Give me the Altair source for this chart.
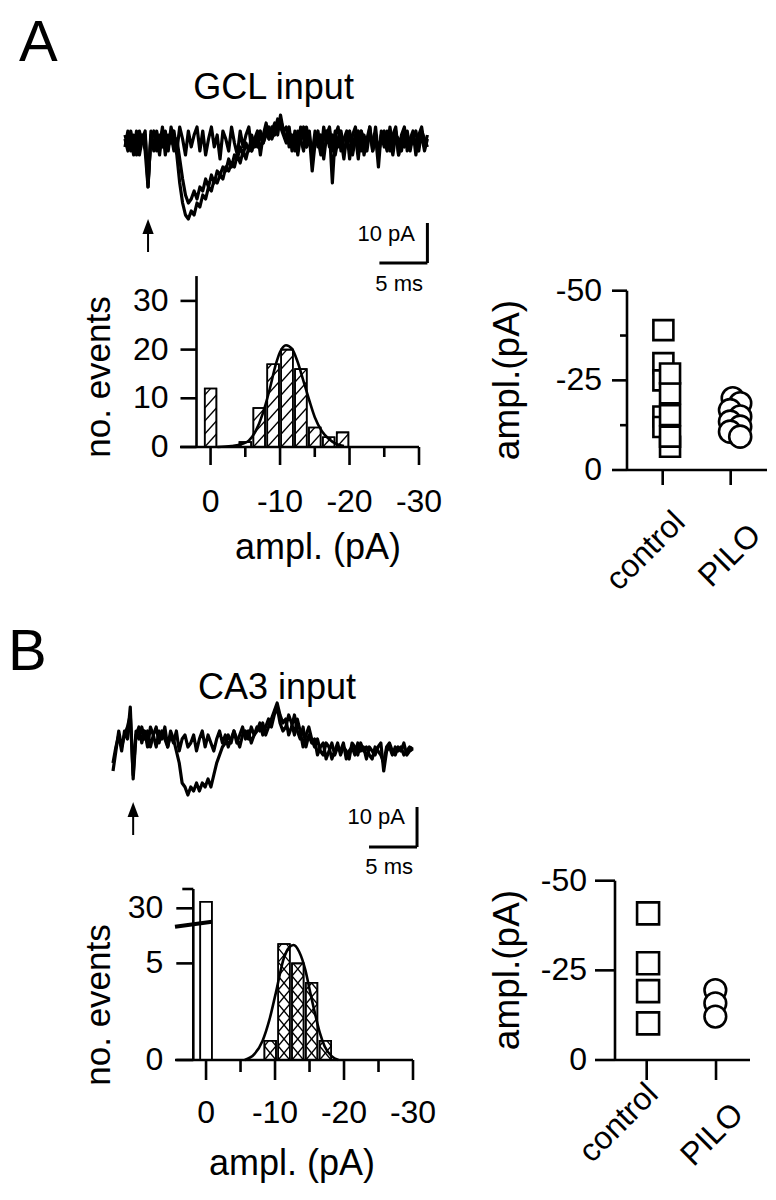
import altair as alt
import pandas as pd

FONT = "Liberation Sans"
M = 8            # page margin: image pixel minus M gives chart pixel
W, H = 760, 1184


def P(v):
    return v - M


# ------------------------------------------------------------------ data
DT = 0.3  # ms between trace samples
TRACE_A_FAIL = [1, -2, 3, -1, 2, -3, 1, 3, -11, 2,
                -2, 3, -1, 4, -3, 2, 0, 3, -2, 4,
                1, -3, 3, -1, 2, 4, -2, 3, -3, 1,
                4, -1, 2, -4, 3, 1, -2, 4, 0, -3,
                3, -1, 2, 4, -2, 1, 3, -3, 2, 5,
                1, 3, 5, 2, 7, 3, 1, 4, -2, 3,
                -3, 2, 4, -1, 3, -4, 2, 1, -3, 4,
                0, 3, -10, 2, 4, -2, 1, 3, -4, 2,
                4, -1, 3, -3, 1, 4, -2, 2, -6, 3,
                1, -2, 4, -1, 3, -3, 2, 4, -2, 1,
                3, -3, 2, 4, -1, 2]
TRACE_A_EPSC1 = [-1, 3, -2, 2, -3, 3, 0, 2, -10, 1,
                 3, -2, 2, -1, 3, -2, 4, 1, -3, -10,
                 -15, -18, -19, -17, -18, -15, -16, -13, -14, -11,
                 -12, -9, -10, -8, -9, -6, -7, -5, -6, -3,
                 -5, -2, -4, -1, -2, 1, -1, 2, 0, 3,
                 1, 4, 2, 5, 6, 3, 4, -1, 2, -2,
                 3, 1, -2, 4, 0, -3, 3, -1, 2, -4,
                 2, 4, -2, 3, -1, 1, -4, 2, 3, -1,
                 2, -4, 3, 1, -2, 3, -1, 4, -3, 2,
                 -1, 3, -2, 2, 4, -3, 1, -1, 3, -2,
                 2, 0, -2, 3, 1, -1]
TRACE_A_EPSC2 = [2, -1, 1, -3, 3, -1, 2, -2, -11, 3,
                 -1, 2, -3, 3, 1, -1, 2, -2, 1, -4,
                 -9, -13, -15, -14, -12, -14, -11, -12, -9, -11,
                 -8, -10, -7, -8, -6, -7, -4, -6, -3, -4,
                 -1, -3, 0, -2, 2, -1, 1, 3, 0, 2,
                 4, 1, 3, 6, 4, 2, 0, 3, -1, 2,
                 -2, 4, 1, -1, 2, -7, 0, 3, -2, 1,
                 3, -1, 2, -3, 1, 3, -2, 0, 2, -3,
                 1, 3, -2, 2, -1, 4, -2, 1, -3, 2,
                 3, -1, 1, -3, 2, 1, -2, 3, 0, -1,
                 1, 3, -1, 2, -2, 1]
TRACE_B_FAIL = [-5, -1, 2, -2, 3, 1, 9, -9, 2, 4,
                0, 3, -1, 4, 2, -1, 3, 1, 4, -1,
                2, 0, 3, -2, 1, 2, -1, 0, 2, -2,
                1, 3, -1, 2, 0, -2, 1, 3, 0, 2,
                -1, 1, 3, 0, 2, 4, 1, 3, 0, 2,
                4, 3, 5, 2, 4, 6, 8, 10, 7, 5,
                6, 2, 4, 7, 3, 1, 4, -1, 2, 0,
                1, -3, -1, 0, -4, -2, 0, -3, -1, -2,
                0, -4, -2, -1, -3, 0, -2, -1, -4, -1,
                -2, -3, -1, 0, -7, -2, -1, -3, -1, -2,
                -1, -3, -2, -1, -2]
TRACE_B_EPSC = [-7, -2, 3, -1, 2, 4, 7, -8, 3, 1,
                4, 1, 3, -1, 2, 4, 0, 3, 1, -1,
                3, 1, -2, -5, -10, -11, -13, -11, -12, -10,
                -12, -10, -11, -9, -11, -8, -5, -3, -1, 0,
                2, 0, 3, 1, -1, 2, 3, 1, 4, 2,
                3, 5, 2, 4, 6, 4, 7, 9, 5, 3,
                4, 7, 5, 2, 6, 3, -1, 2, 4, 1,
                -1, 1, -2, -3, 0, -1, -4, -2, 0, -3,
                -1, -2, -4, 0, -1, -3, 0, -2, -1, -3,
                -4, -1, -2, -3, -5, -1, 0, -2, -3, -1,
                -2, 0, -3, -2, -1]
STIM_IDX_A = 8
STIM_IDX_B = 7
SCALE_PA = 10
SCALE_MS = 5

HIST_A_CENTERS = [0, 5, 7, 9, 11, 13, 15, 17, 19]
HIST_A_COUNTS = [12, 1, 8, 17, 20, 16, 4, 2, 3]
FIT_A_X = [1.0, 3.0, 4.5, 5.5, 6.5, 7.5, 8.5, 9.4, 10.0, 10.85, 11.7, 12.5, 13.3, 14.2, 15.0, 16.0, 17.0, 18.0, 19.2]
FIT_A_Y = [0.0, 0.2, 0.6, 1.3, 3.3, 6.8, 11.8, 17.0, 19.5, 20.9, 20.2, 17.6, 13.9, 9.6, 6.1, 3.3, 1.7, 0.7, 0.2]

HIST_B_CENTERS = [0, 9.3, 11.3, 13.3, 15.3, 17.3]
HIST_B_COUNTS = [31, 1, 6, 5, 4, 1]
HIST_B_HATCHED = [False, True, True, True, True, True]
FIT_B_X = [5.6, 7.0, 8.2, 9.2, 10.1, 11.3, 12.0, 12.7, 13.5, 14.4, 15.1, 15.8, 16.5, 17.2, 18.2, 19.2]
FIT_B_Y = [0.0, 0.3, 1.0, 2.1, 3.45, 5.3, 5.8, 5.95, 5.6, 4.65, 3.5, 2.4, 1.4, 0.7, 0.2, 0.0]

HIST_MAJOR = [0, 10, 20, 30]
HIST_MAJOR_LABELS = ["0", "-10", "-20", "-30"]
HIST_MINOR = [5, 15, 25]
HIST_A_YTICKS = [0, 10, 20, 30]
HIST_A_YLABELS = ["0", "10", "20", "30"]
HIST_B_YTICKS = [0, 5, 30]
HIST_B_YLABELS = ["0", "5", "30"]

GROUPS = ["control", "PILO"]
A_CTRL_X = [1.01, 1.01, 1.01, 1.01, 1.01, 1.108, 1.108, 1.108, 1.108, 1.108]
A_CTRL_Y = [39.0, 29.8, 25.0, 14.9, 12.0, 6.5, 9.3, 15.3, 21.4, 26.9]
A_PILO_X = [2.03, 2.14, 1.99, 2.14, 1.99, 2.14, 1.99, 2.14]
A_PILO_Y = [20.0, 18.6, 16.7, 14.9, 13.5, 12.1, 10.7, 9.3]
B_CTRL_X = [1.02, 1.02, 1.02, 1.02]
B_CTRL_Y = [40.9, 27.0, 19.2, 10.2]
B_PILO_X = [1.99, 1.99, 1.99]
B_PILO_Y = [19.5, 15.8, 12.1]
SCAT_TICKS = [0, 25, 50]
SCAT_LABELS = ["0", "-25", "-50"]
SCAT_MINOR_A = [12.5, 37.5]

# ------------------------------------------------------------------ helpers
PX_MS = 9.6
PX_PA = 4.0
LW = 2.6
LABEL_SIZE = 32


def S(domain, rng):
    return alt.Scale(domain=domain, range=rng, nice=False, zero=False)


def text(s, x, y, size, angle=0, align="center"):
    return alt.Chart(pd.DataFrame({"s": [s]})).mark_text(
        font=FONT, fontSize=size, angle=angle, align=align,
        baseline="alphabetic", color="black"
    ).encode(x=alt.value(P(x)), y=alt.value(P(y)), text="s:N")


def hline(xs, a, b, y_px, width=LW):
    return alt.Chart(pd.DataFrame({"a": [a], "b": [b]})).mark_rule(
        color="black", strokeWidth=width).encode(
        x=alt.X("a:Q", scale=xs, axis=None), x2="b:Q", y=alt.value(P(y_px)))


def vline(ys, a, b, x_px, width=LW):
    return alt.Chart(pd.DataFrame({"a": [a], "b": [b]})).mark_rule(
        color="black", strokeWidth=width).encode(
        y=alt.Y("a:Q", scale=ys, axis=None), y2="b:Q", x=alt.value(P(x_px)))


def xticks(xs, vals, y_px, length):
    return alt.Chart(pd.DataFrame({"v": vals})).mark_rule(color="black", strokeWidth=LW).encode(
        x=alt.X("v:Q", scale=xs, axis=None), y=alt.value(P(y_px)), y2=alt.value(P(y_px + length)))


def yticks(ys, vals, x_px, length):
    return alt.Chart(pd.DataFrame({"v": vals})).mark_rule(color="black", strokeWidth=LW).encode(
        y=alt.Y("v:Q", scale=ys, axis=None), x=alt.value(P(x_px - length)), x2=alt.value(P(x_px)))


def xlabels(xs, vals, labels, base_px):
    return alt.Chart(pd.DataFrame({"v": vals, "s": labels})).mark_text(
        font=FONT, fontSize=LABEL_SIZE, align="center", baseline="alphabetic", color="black").encode(
        x=alt.X("v:Q", scale=xs, axis=None), y=alt.value(P(base_px)), text="s:N")


def ylabels(ys, vals, labels, right_px):
    return alt.Chart(pd.DataFrame({"v": vals, "s": labels})).mark_text(
        font=FONT, fontSize=LABEL_SIZE, align="right", baseline="middle", color="black").encode(
        y=alt.Y("v:Q", scale=ys, axis=None), x=alt.value(P(right_px)), text="s:N")


ARROW_PATH = "M0,-1L0.75,1L-0.75,1Z"


def trace_panel(sweeps, left, base_y, stim_idx, tip, base, bar_t, bar_pa):
    n = len(sweeps[0])
    dur = (n - 1) * DT
    xs = S([0, dur], [P(left), P(left + dur * PX_MS)])
    ys = S([-40, 20], [P(base_y + 40 * PX_PA), P(base_y - 20 * PX_PA)])
    rows = []
    for k, vals in enumerate(sweeps):
        for i, v in enumerate(vals):
            rows.append({"t": i * DT, "v": v, "sweep": k})
    df = pd.DataFrame(rows)
    X = alt.X("t:Q", scale=xs, axis=None)
    Y = alt.Y("v:Q", scale=ys, axis=None)
    lines = alt.Chart(df).mark_line(color="black", strokeWidth=3.2, strokeJoin="round").encode(
        x=X, y=Y, detail="sweep:N")
    bar_df = pd.DataFrame({"t": [bar_t, bar_t - SCALE_MS], "v": [bar_pa, bar_pa],
                           "t2": [bar_t, bar_t], "v2": [bar_pa + SCALE_PA, bar_pa]})
    bars = alt.Chart(bar_df).mark_rule(color="black", strokeWidth=3).encode(
        x=X, x2="t2:Q", y=Y, y2="v2:Q")
    st = stim_idx * DT
    head_c = tip - 7.5 / PX_PA
    shaft = alt.Chart(pd.DataFrame({"t": [st], "v": [base], "v2": [head_c]})).mark_rule(
        color="black", strokeWidth=2).encode(x=X, y=Y, y2="v2:Q")
    head = alt.Chart(pd.DataFrame({"t": [st], "v": [head_c]})).mark_point(
        shape=ARROW_PATH, filled=True, color="black", size=225, opacity=1, strokeWidth=0).encode(x=X, y=Y)
    return alt.layer(lines, bars, shaft, head)


HALF = 0.84


def hatch_lines(centers, heights, flags, step, kinds):
    rows = []
    for c, h, f in zip(centers, heights, flags):
        if not f:
            continue
        x0, x1 = c - HALF, c + HALF
        k = 0
        while k * step < h - 1e-9:
            ya, yb = k * step, (k + 1) * step
            for kind in kinds:
                if kind == "/":
                    xa, y1, xb, y2 = x0, ya, x1, yb
                    if yb > h:
                        xb = x0 + (h - ya) / (yb - ya) * (x1 - x0)
                        y2 = h
                else:
                    xa, y1, xb, y2 = x0, yb, x1, ya
                    if yb > h:
                        xa = x0 + (yb - h) / (yb - ya) * (x1 - x0)
                        y1 = h
                rows.append({"x": xa, "y": y1, "x2": xb, "y2": y2})
            k += 1
    return pd.DataFrame(rows)


def hist_marks(xs, ys, centers, heights, flags, step, kinds, fit_x, fit_y):
    bars = pd.DataFrame({"x": [c - HALF for c in centers], "x2": [c + HALF for c in centers],
                         "y": [0] * len(heights), "y2": heights})
    enc = dict(x=alt.X("x:Q", scale=xs, axis=None), x2="x2:Q",
               y=alt.Y("y:Q", scale=ys, axis=None), y2="y2:Q")
    rect = alt.Chart(bars).mark_rect(fill="white", stroke="black", strokeWidth=1.6).encode(**enc)
    hat = alt.Chart(hatch_lines(centers, heights, flags, step, kinds)).mark_rule(
        color="black", strokeWidth=1.3).encode(**enc)
    outline = alt.Chart(bars).mark_rect(fill="transparent", stroke="black", strokeWidth=1.6).encode(**enc)
    fit = alt.Chart(pd.DataFrame({"x": fit_x, "y": fit_y})).mark_line(
        color="black", strokeWidth=2.6, interpolate="monotone").encode(
        x=alt.X("x:Q", scale=xs, axis=None), y=alt.Y("y:Q", scale=ys, axis=None))
    return [rect, hat, outline, fit]


# ------------------------------------------------------------------ histogram A
def hist_a():
    xd, yd = [-4.4, 30], [0, 35.1]
    xs = S(xd, [P(180), P(419)])
    ys = S(yd, [P(447), P(447 - 35.1 * 4.87)])
    layers = hist_marks(xs, ys, HIST_A_CENTERS, HIST_A_COUNTS, [True] * len(HIST_A_COUNTS),
                        13 / 4.87, "/", FIT_A_X, FIT_A_Y)
    layers += [
        hline(xs, xd[0], xd[1], 447),
        xticks(xs, HIST_MAJOR, 447, 18),
        xticks(xs, HIST_MINOR, 447, 10),
        xlabels(xs, HIST_MAJOR, HIST_MAJOR_LABELS, 512),
        vline(ys, yd[0], yd[1], 196.5),
        yticks(ys, HIST_A_YTICKS, 196.5, 16),
        ylabels(ys, HIST_A_YTICKS, HIST_A_YLABELS, 168.5),
    ]
    return alt.layer(*layers)


# ------------------------------------------------------------------ histogram B (broken axis)
LOW_MAX = 7
UP_BASE = 30
UP_POS = 7.85
UP_SCALE = 0.34
AXIS_TOP_B = 8.85


def disp(v):
    return v if v <= LOW_MAX else UP_POS + (v - UP_BASE) * UP_SCALE


def hist_b():
    xd, yd = [-4.5, 30], [0, AXIS_TOP_B]
    xs = S(xd, [P(175), P(413)])
    ys = S(yd, [P(1060), P(889)])
    heights = [disp(v) for v in HIST_B_COUNTS]
    layers = hist_marks(xs, ys, HIST_B_CENTERS, heights, HIST_B_HATCHED,
                        14 / 19.33, "/\\", FIT_B_X, FIT_B_Y)
    yt = [disp(v) for v in HIST_B_YTICKS]
    brk = alt.Chart(pd.DataFrame({"x": [-4.5], "x2": [0.85], "y": [6.9], "y2": [7.15]})).mark_rule(
        color="black", strokeWidth=4).encode(
        x=alt.X("x:Q", scale=xs, axis=None), x2="x2:Q",
        y=alt.Y("y:Q", scale=ys, axis=None), y2="y2:Q")
    layers += [
        hline(xs, xd[0], xd[1], 1060),
        xticks(xs, HIST_MAJOR, 1060, 20),
        xticks(xs, HIST_MINOR, 1060, 12),
        xlabels(xs, HIST_MAJOR, HIST_MAJOR_LABELS, 1123),
        vline(ys, yd[0], yd[1], 193.3),
        yticks(ys, yt, 193.3, 17),
        yticks(ys, [AXIS_TOP_B], 193.3, 11),
        ylabels(ys, yt, HIST_B_YLABELS, 163.3),
        brk,
    ]
    return alt.layer(*layers)


# ------------------------------------------------------------------ scatter panels
R2 = 2 ** 0.5


def rot_label(xs, v, s, ox, base_px):
    # text rotated by 315 deg; dx/dy act in the text's own frame, so a purely
    # horizontal screen shift ox becomes dx = dy = ox / sqrt(2)
    return alt.Chart(pd.DataFrame({"v": [v], "s": [s]})).mark_text(
        font=FONT, fontSize=LABEL_SIZE, angle=315, align="right", baseline="alphabetic",
        color="black", dx=ox / R2, dy=ox / R2).encode(
        x=alt.X("v:Q", scale=xs, axis=None), y=alt.value(P(base_px)), text="s:N")


def scatter(ctrl_x, ctrl_y, pilo_x, pilo_y, xd, xr, y0, y50, yaxis_x, ytick, lab_right,
            xtick, lab_pos, sq, ci, minor=None):
    xs = S(xd, [P(xr[0]), P(xr[1])])
    ys = S([0, 50], [P(y0), P(y50)])
    sqs = alt.Chart(pd.DataFrame({"x": ctrl_x, "y": ctrl_y})).mark_point(
        shape="square", filled=True, fill="white", stroke="black", strokeWidth=2.6,
        size=sq, opacity=1).encode(
        x=alt.X("x:Q", scale=xs, axis=None), y=alt.Y("y:Q", scale=ys, axis=None))
    cis = alt.Chart(pd.DataFrame({"x": pilo_x, "y": pilo_y})).mark_point(
        shape="circle", filled=True, fill="white", stroke="black", strokeWidth=2.6,
        size=ci, opacity=1).encode(
        x=alt.X("x:Q", scale=xs, axis=None), y=alt.Y("y:Q", scale=ys, axis=None))
    layers = [
        hline(xs, xd[0], xd[1], y0),
        xticks(xs, [1, 2], y0, xtick),
        vline(ys, 0, 50, yaxis_x),
        yticks(ys, SCAT_TICKS, yaxis_x, ytick),
        ylabels(ys, SCAT_TICKS, SCAT_LABELS, lab_right),
        rot_label(xs, 1, GROUPS[0], lab_pos[0][0], lab_pos[0][1]),
        rot_label(xs, 2, GROUPS[1], lab_pos[1][0], lab_pos[1][1]),
        sqs, cis,
    ]
    if minor:
        layers.append(yticks(ys, minor, yaxis_x, 7))
    return alt.layer(*layers)


layers = [
    text("A", 19, 61, 58, align="left"),
    text("GCL input", 273.5, 99, 36),
    trace_panel([TRACE_A_FAIL, TRACE_A_EPSC1, TRACE_A_EPSC2], 125, 143, STIM_IDX_A,
                -19, -27.25, 31.5, -30),
    text("10 pA", 415, 241, 22, align="right"),
    text("5 ms", 423, 291, 22, align="right"),
    hist_a(),
    text("no. events", 110, 377, 35, angle=270),
    text("ampl. (pA)", 318, 559, 36),
    scatter(A_CTRL_X, A_CTRL_Y, A_PILO_X, A_PILO_Y, [0.475, 2.534], [627, 767], 470, 290.7,
            627, 15, 602, 15, [(24, 524), (32, 537)], 400, 484, SCAT_MINOR_A),
    text("ampl.(pA)", 519, 380, 37, angle=270),

    text("B", 8, 670, 58, align="left"),
    text("CA3 input", 277, 699, 36),
    trace_panel([TRACE_B_FAIL, TRACE_B_EPSC], 113, 743, STIM_IDX_B,
                -14.75, -23, 31.67, -26),
    text("10 pA", 405, 824, 22, align="right"),
    text("5 ms", 413, 874, 22, align="right"),
    hist_b(),
    text("no. events", 110, 1005, 35, angle=270),
    text("ampl. (pA)", 292, 1175, 36),
    scatter(B_CTRL_X, B_CTRL_Y, B_PILO_X, B_PILO_Y, [0.543, 2.49], [615, 750], 1060, 880.7,
            615, 20, 587, 20, [(13, 1096), (29, 1116)], 484, 470),
    text("ampl.(pA)", 519, 970, 37, angle=270),
]

chart = alt.layer(*layers).resolve_scale(x="independent", y="independent").properties(
    width=W, height=H, autosize=alt.AutoSizeParams(type="none"), padding=0
).configure_view(stroke="transparent")

chart.save("out.html", embed_options={"renderer": "svg", "actions": False})
